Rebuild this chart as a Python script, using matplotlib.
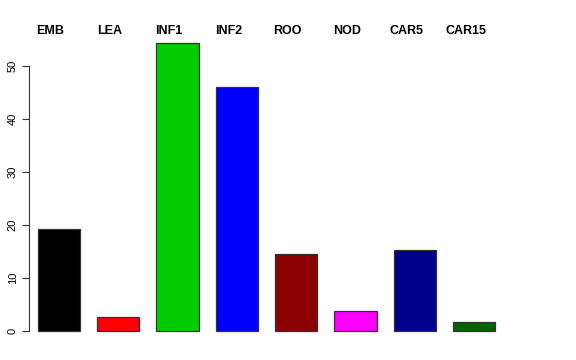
import matplotlib
matplotlib.use("Agg")
import matplotlib.pyplot as plt
import matplotlib.transforms as mtransforms
import numpy as np

plt.rcParams['font.family'] = ['Liberation Sans', 'DejaVu Sans']

# data
tissues = ['EMB', 'LEA', 'INF1', 'INF2', 'ROO', 'NOD', 'CAR5', 'CAR15']
values = [19.2, 2.6, 54.3, 46.0, 14.5, 3.8, 15.3, 1.7]
colors = ['black', 'red', '#00CD00', 'blue', '#8B0000', 'magenta', '#00008B', '#006400']
yticks = [0, 10, 20, 30, 40, 50]

W, H = 576, 360
fig = plt.figure(figsize=(W / 100, H / 100), dpi=100)

# axes box in pixels: left 29, right 560, top 40, bottom 340
ax = fig.add_axes([29 / W, (H - 340) / H, (560 - 29) / W, 300 / H])

# R style barplot: width 1, space 0.4
x = np.arange(len(values)) * 1.4 + 0.9
ax.bar(x, values, width=1.0, color=colors, edgecolor='#333333', linewidth=0.9)

px_per_unit = 59.3 / 1.4
x0 = 59 - 0.9 * px_per_unit
ax.set_xlim((29 - x0) / px_per_unit, (560 - x0) / px_per_unit)
ax.set_ylim(-9 / 5.3, 291 / 5.3)

for s in ['top', 'right', 'bottom']:
    ax.spines[s].set_visible(False)
ax.spines['left'].set_bounds(0, 50)
ax.spines['left'].set_color('#333333')
ax.set_xticks([])
ax.set_yticks(yticks)
ax.set_yticklabels([str(t) for t in yticks], rotation=90, va='center', fontsize=8)
ax.tick_params(axis='y', length=5, color='#333333', pad=3)

# tissue names above the bars, slightly left of each bar centre
trans = mtransforms.blended_transform_factory(ax.transData, fig.transFigure)
for name, xc in zip(tissues, x):
    ax.text(xc - 0.2, 1 - 34.5 / H, name, transform=trans, fontsize=9,
            fontweight='bold', ha='center', va='baseline', clip_on=False)

fig.savefig('out.png', dpi=100)
